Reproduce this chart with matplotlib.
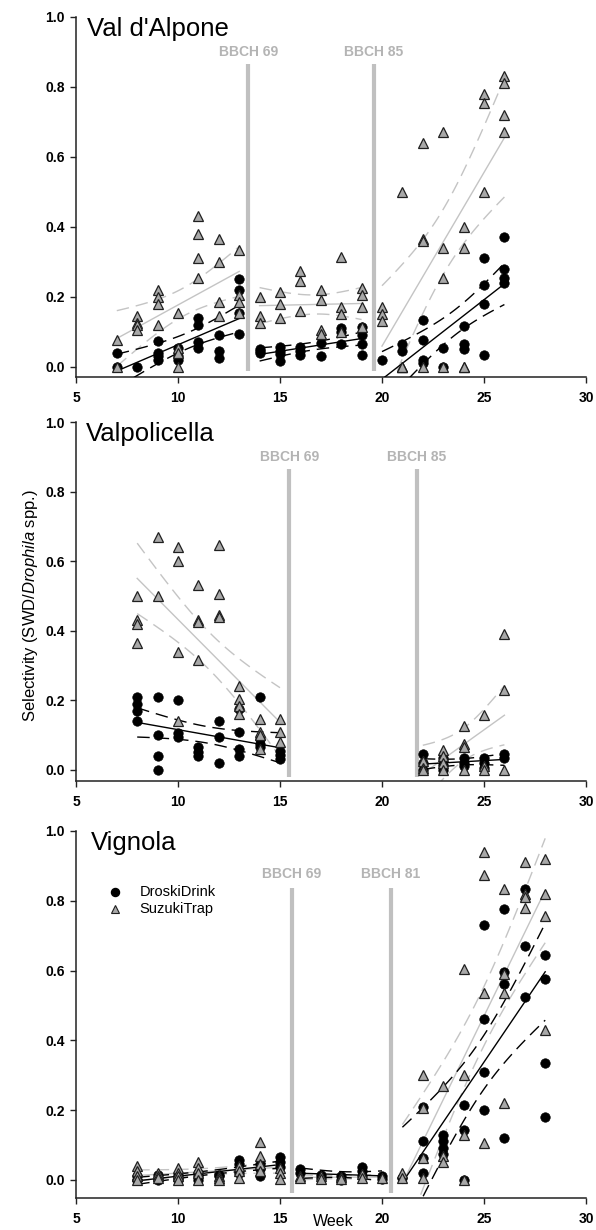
import numpy as np
import matplotlib
matplotlib.use('Agg')
import matplotlib.pyplot as plt

plt.rcParams['font.family'] = ['Liberation Sans', 'DejaVu Sans']
plt.rcParams['mathtext.fontset'] = 'custom'
plt.rcParams['mathtext.rm'] = 'Liberation Sans'
plt.rcParams['mathtext.it'] = 'Liberation Sans:italic'

# ---------------- data ----------------
series_names = ['DroskiDrink', 'SuzukiTrap']
x_ticks = [5, 10, 15, 20, 25, 30]
y_ticks = [0.0, 0.2, 0.4, 0.6, 0.8, 1.0]

# Val d'Alpone
alp_weeks = [7, 8, 9, 10, 11, 12, 13, 14, 15, 16, 17, 18, 19, 20, 21, 22, 23, 24, 25, 26]
alp_droski = [[0.04, 0.0], [0.0], [0.075, 0.04, 0.03, 0.02], [0.055, 0.03, 0.02],
              [0.14, 0.12, 0.07, 0.055], [0.09, 0.045, 0.025], [0.25, 0.22, 0.155, 0.095],
              [0.05, 0.045, 0.04], [0.058, 0.045, 0.038, 0.018], [0.058, 0.046, 0.034],
              [0.068, 0.03], [0.11, 0.10, 0.066], [0.115, 0.09, 0.065, 0.035],
              [0.02], [0.065, 0.045], [0.135, 0.077, 0.02, 0.01], [0.055, 0.0],
              [0.117, 0.065, 0.05], [0.31, 0.235, 0.18, 0.035], [0.37, 0.28, 0.255, 0.24]]
alp_suzuki = [[0.077, 0.0], [0.145, 0.125, 0.12, 0.105], [0.22, 0.20, 0.18, 0.12],
              [0.155, 0.055, 0.04, 0.0], [0.43, 0.38, 0.31, 0.255], [0.365, 0.30, 0.185, 0.145],
              [0.335, 0.205, 0.185, 0.155], [0.20, 0.145, 0.125], [0.215, 0.18, 0.14],
              [0.275, 0.245, 0.16], [0.22, 0.19, 0.105, 0.095], [0.315, 0.17, 0.15, 0.10],
              [0.225, 0.205, 0.17, 0.115], [0.17, 0.15, 0.13], [0.50, 0.0, 0.0, 0.0],
              [0.64, 0.365, 0.36, 0.0], [0.67, 0.34, 0.255, 0.0], [0.40, 0.34, 0.0, 0.0],
              [0.78, 0.755, 0.50], [0.83, 0.81, 0.72, 0.67]]
alp_segments = [(7, 13), (14, 19), (20, 26)]
alp_bbch_weeks = [13.45, 19.6]
alp_bbch_labels = ['BBCH 69', 'BBCH 85']

# Valpolicella
vpc_weeks = [8, 9, 10, 11, 12, 13, 14, 15, 22, 23, 24, 25, 26]
vpc_droski = [[0.21, 0.19, 0.17, 0.14], [0.21, 0.10, 0.04, 0.0], [0.20, 0.105, 0.095],
              [0.065, 0.05, 0.04], [0.14, 0.095, 0.02], [0.175, 0.11, 0.06, 0.04],
              [0.21, 0.09, 0.075, 0.065], [0.053, 0.043, 0.03],
              [0.045, 0.02, 0.0], [0.035, 0.015, 0.0], [0.035, 0.02, 0.01],
              [0.035, 0.02, 0.005], [0.045, 0.035]]
vpc_suzuki = [[0.50, 0.43, 0.42, 0.365], [0.67, 0.50], [0.64, 0.60, 0.34, 0.14],
              [0.53, 0.43, 0.425, 0.315], [0.645, 0.505, 0.445, 0.44], [0.24, 0.205, 0.185, 0.16],
              [0.145, 0.11, 0.10, 0.06], [0.145, 0.11, 0.08],
              [0.025, 0.005, 0.0], [0.058, 0.04, 0.02, 0.0], [0.125, 0.075, 0.065, 0.0],
              [0.157, 0.01, 0.0], [0.39, 0.23, 0.0]]
vpc_segments = [(8, 15), (22, 26)]
vpc_bbch_weeks = [15.46, 21.7]
vpc_bbch_labels = ['BBCH 69', 'BBCH 85']

# Vignola
vig_weeks = [8, 9, 10, 11, 12, 13, 14, 15, 16, 17, 18, 19, 20, 21, 22, 23, 24, 25, 26, 27, 28]
vig_droski = [[0.01, 0.0, 0.0], [0.015, 0.005, 0.0], [0.015, 0.005, 0.0], [0.02, 0.01, 0.0],
              [0.015, 0.01], [0.057, 0.045, 0.02], [0.045, 0.03, 0.01], [0.066, 0.052, 0.038],
              [0.03, 0.02], [0.015, 0.005], [0.012, 0.0], [0.038, 0.024, 0.01], [0.01, 0.002],
              [0.005], [0.21, 0.11, 0.062, 0.02], [0.13, 0.11, 0.09, 0.075], [0.215, 0.143, 0.0],
              [0.73, 0.46, 0.31, 0.20], [0.775, 0.595, 0.56, 0.12], [0.835, 0.67, 0.525],
              [0.645, 0.575, 0.335, 0.18]]
vig_suzuki = [[0.04, 0.025, 0.01, 0.0], [0.02, 0.01, 0.005], [0.035, 0.02, 0.01, 0.0],
              [0.052, 0.035, 0.02, 0.0], [0.012, 0.005, 0.0], [0.04, 0.025, 0.005],
              [0.108, 0.067, 0.045, 0.025], [0.033, 0.019, 0.003], [0.012, 0.005],
              [0.01, 0.002], [0.008, 0.003], [0.018, 0.005], [0.005], [0.02, 0.005],
              [0.30, 0.205, 0.062, 0.005], [0.27, 0.067, 0.05], [0.605, 0.30, 0.13, 0.0],
              [0.94, 0.875, 0.535, 0.105], [0.835, 0.59, 0.535, 0.22], [0.91, 0.82, 0.81, 0.78],
              [0.92, 0.82, 0.755, 0.43]]
vig_segments = [(8, 15), (16, 20), (21, 28)]
vig_bbch_weeks = [15.57, 20.44]
vig_bbch_labels = ['BBCH 69', 'BBCH 81']

# ---------------- style ----------------
W, H = 596, 1230
BLACK = '#000000'
FIT_GRAY = '#c4c4c4'
TRI_FILL = '#a8a8a8'
TRI_EDGE = '#202020'
BBCH_COLOR = '#c0c0c0'
BBCH_TEXT = '#b4b4b4'
DASH = (0, (9, 5))

panels = [
    dict(name="Val d'Alpone", weeks=alp_weeks, dd=alp_droski, st=alp_suzuki, seg=alp_segments,
         bw=alp_bbch_weeks, bl=alp_bbch_labels, top=17, bot=377, ymin=-0.029,
         lt=0.866, lb=-0.013, ly=0.90, tx=0.022),
    dict(name='Valpolicella', weeks=vpc_weeks, dd=vpc_droski, st=vpc_suzuki, seg=vpc_segments,
         bw=vpc_bbch_weeks, bl=vpc_bbch_labels, top=422, bot=781, ymin=-0.032,
         lt=0.865, lb=-0.02, ly=0.90, tx=0.02),
    dict(name='Vignola', weeks=vig_weeks, dd=vig_droski, st=vig_suzuki, seg=vig_segments,
         bw=vig_bbch_weeks, bl=vig_bbch_labels, top=831, bot=1198, ymin=-0.052,
         lt=0.837, lb=-0.037, ly=0.877, tx=0.03),
]


def flatten(weeks, vals):
    xs, ys = [], []
    for w, v in zip(weeks, vals):
        for val in v:
            xs.append(w)
            ys.append(val)
    return np.array(xs, float), np.array(ys, float)


def t975(df):
    z = 1.959964
    g1 = (z**3 + z) / 4
    g2 = (5 * z**5 + 16 * z**3 + 3 * z) / 96
    g3 = (3 * z**7 + 19 * z**5 + 17 * z**3 - 15 * z) / 384
    return z + g1 / df + g2 / df**2 + g3 / df**3


def fit_band(x, y, x0, x1):
    n = len(x)
    b, a = np.polyfit(x, y, 1)
    xs = np.linspace(x0, x1, 120)
    yhat = a + b * xs
    resid = y - (a + b * x)
    s = np.sqrt(np.sum(resid**2) / (n - 2))
    sxx = np.sum((x - x.mean())**2)
    h = t975(n - 2) * s * np.sqrt(1.0 / n + (xs - x.mean())**2 / sxx)
    return xs, yhat, yhat - h, yhat + h


fig = plt.figure(figsize=(W / 100, H / 100), dpi=100)
left = 76 / W
width = 510 / W

for i, p in enumerate(panels):
    height_px = p['bot'] - p['top']
    ax = fig.add_axes([left, 1 - p['bot'] / H, width, height_px / H])
    ax.set_xlim(5, 30)
    ax.set_ylim(p['ymin'], 1.0)
    for sp in ['top', 'right']:
        ax.spines[sp].set_visible(False)
    for sp in ['left', 'bottom']:
        ax.spines[sp].set_linewidth(1.1)
        ax.spines[sp].set_color('#222222')
    ax.set_xticks(x_ticks)
    ax.set_yticks(y_ticks)
    ax.set_yticklabels(['%.1f' % v for v in y_ticks])
    ax.tick_params(direction='out', length=4, width=1, color='#222222', labelsize=10)
    ax.tick_params(axis='x', pad=6)
    ax.tick_params(axis='y', pad=4)
    for lab in ax.get_xticklabels() + ax.get_yticklabels():
        lab.set_fontweight('bold')

    # BBCH lines
    for bw, bl in zip(p['bw'], p['bl']):
        ax.plot([bw, bw], [p['lb'], p['lt']], color=BBCH_COLOR, lw=3.0,
                solid_capstyle='butt', zorder=1)
        ax.text(bw, p['ly'], bl, ha='center', va='center', color=BBCH_TEXT,
                fontsize=10, fontweight='bold', zorder=1)

    xd, yd = flatten(p['weeks'], p['dd'])
    xt, yt = flatten(p['weeks'], p['st'])

    # regression lines with 95% confidence bands per phenological segment
    for (lo, hi) in p['seg']:
        for xx, yy, col, z in [(xt, yt, FIT_GRAY, 2), (xd, yd, BLACK, 3)]:
            m = (xx >= lo) & (xx <= hi)
            xs, yh, yl, yu = fit_band(xx[m], yy[m], lo, hi)
            ax.plot(xs, yh, color=col, lw=1.0, zorder=z)
            ax.plot(xs, yl, color=col, lw=1.0, ls=DASH, zorder=z)
            ax.plot(xs, yu, color=col, lw=1.0, ls=DASH, zorder=z)

    ax.plot(xd, yd, 'o', ms=6.8, mfc=BLACK, mec=BLACK, mew=0.5, ls='none', zorder=4,
            clip_on=False)
    ax.plot(xt, yt, '^', ms=7.0, mfc=TRI_FILL, mec=TRI_EDGE, mew=0.9, ls='none', zorder=5,
            clip_on=False)

    ax.text(p['tx'], 0.948, p['name'], transform=ax.transAxes, ha='left',
            va='baseline', fontsize=18.5)

    if i == 2:
        # legend
        ax.plot([0.076], [0.834], 'o', transform=ax.transAxes, ms=5.8, mfc=BLACK,
                mec=BLACK, ls='none')
        ax.plot([0.076], [0.787], '^', transform=ax.transAxes, ms=5.8, mfc=TRI_FILL,
                mec=TRI_EDGE, mew=0.8, ls='none')
        ax.text(0.125, 0.834, series_names[0], transform=ax.transAxes, va='center',
                ha='left', fontsize=10.5)
        ax.text(0.125, 0.787, series_names[1], transform=ax.transAxes, va='center',
                ha='left', fontsize=10.5)

fig.text(31 / W, 1 - 606 / H, r'Selectivity (SWD/$\it{Drophila}$ spp.)', rotation=90,
         ha='center', va='center', fontsize=12)
fig.text(333 / W, 1 - 1221 / H, 'Week', ha='center', va='center', fontsize=11.5)

fig.savefig('out.png', dpi=100)
